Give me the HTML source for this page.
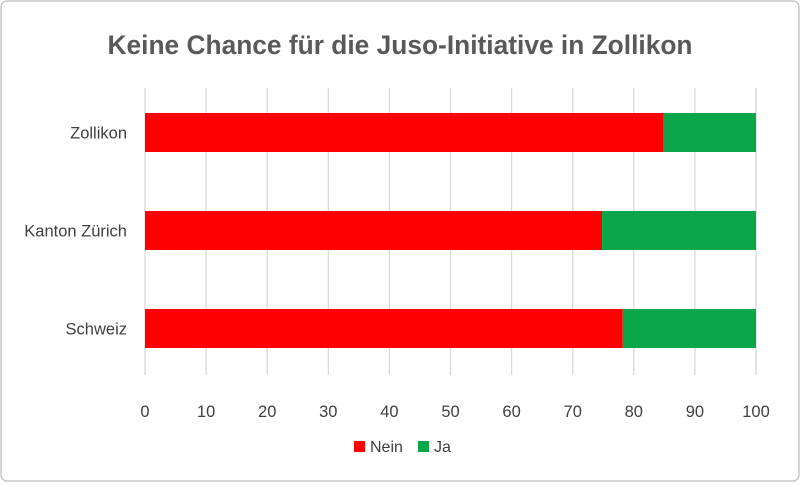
<!DOCTYPE html>
<html><head><meta charset="utf-8"><style>
html,body{margin:0;padding:0;background:#fff;}
body{width:800px;height:482px;overflow:hidden;font-family:"Liberation Sans",sans-serif;}
</style></head><body>
<svg width="800" height="482" xmlns="http://www.w3.org/2000/svg">
<rect x="1" y="1" width="798" height="480" rx="6" fill="#fff" stroke="#c8c8c8" stroke-width="1.5"/>
<text x="400" y="54" text-anchor="middle" font-size="27" font-weight="bold" fill="#595959" textLength="585" lengthAdjust="spacingAndGlyphs">Keine Chance für die Juso-Initiative in Zollikon</text>
<g id="grid"></g><g id="bars"></g><g id="ylabels"></g><g id="xlabels"></g>
<g>
<rect x="354" y="441" width="11" height="11" fill="#ff0000"/>
<text x="370" y="452" font-size="16" fill="#404040">Nein</text>
<rect x="418" y="441" width="11" height="11" fill="#0ca64a"/>
<text x="434" y="452" font-size="16" fill="#404040">Ja</text>
</g>
</svg>
<script>
const categories=["Zollikon","Kanton Zürich","Schweiz"];
const nein=[84.9,74.8,78.2];
const ja=[15.1,25.2,21.8];
const ticks=[0,10,20,30,40,50,60,70,80,90,100];
const NS="http://www.w3.org/2000/svg";
const x0=145,x1=756,yTop=113,band=98,bh=39;
const xs=v=>x0+(x1-x0)*v/100;
const yc=i=>yTop+i*band;
function mk(t,a,p){const e=document.createElementNS(NS,t);for(const k in a)e.setAttribute(k,a[k]);document.getElementById(p).appendChild(e);return e;}
ticks.forEach(t=>{
 const l=mk('line',{x1:xs(t),x2:xs(t),y1:88,y2:375,stroke:'#d9d9d9','stroke-width':1.3},'grid');
 
 
 const tx=mk('text',{x:xs(t),y:417,'text-anchor':'middle','font-size':16.5,fill:'#404040'},'xlabels');
 tx.textContent=t;
 
 
});
categories.forEach((c,i)=>{
 const r1=mk('rect',{x:xs(0),y:yc(i),width:xs(nein[i])-xs(0),height:bh,fill:'#ff0000'},'bars');
 
 
 const r2=mk('rect',{x:xs(nein[i]),y:yc(i),width:xs(nein[i]+ja[i])-xs(nein[i]),height:bh,fill:'#0ca64a'},'bars');
 
 
 const t=mk('text',{x:127,y:yc(i)+bh/2+6,'text-anchor':'end','font-size':16.5,fill:'#404040'},'ylabels');
 t.textContent=c;
 
 
});
</script>
</body></html>
